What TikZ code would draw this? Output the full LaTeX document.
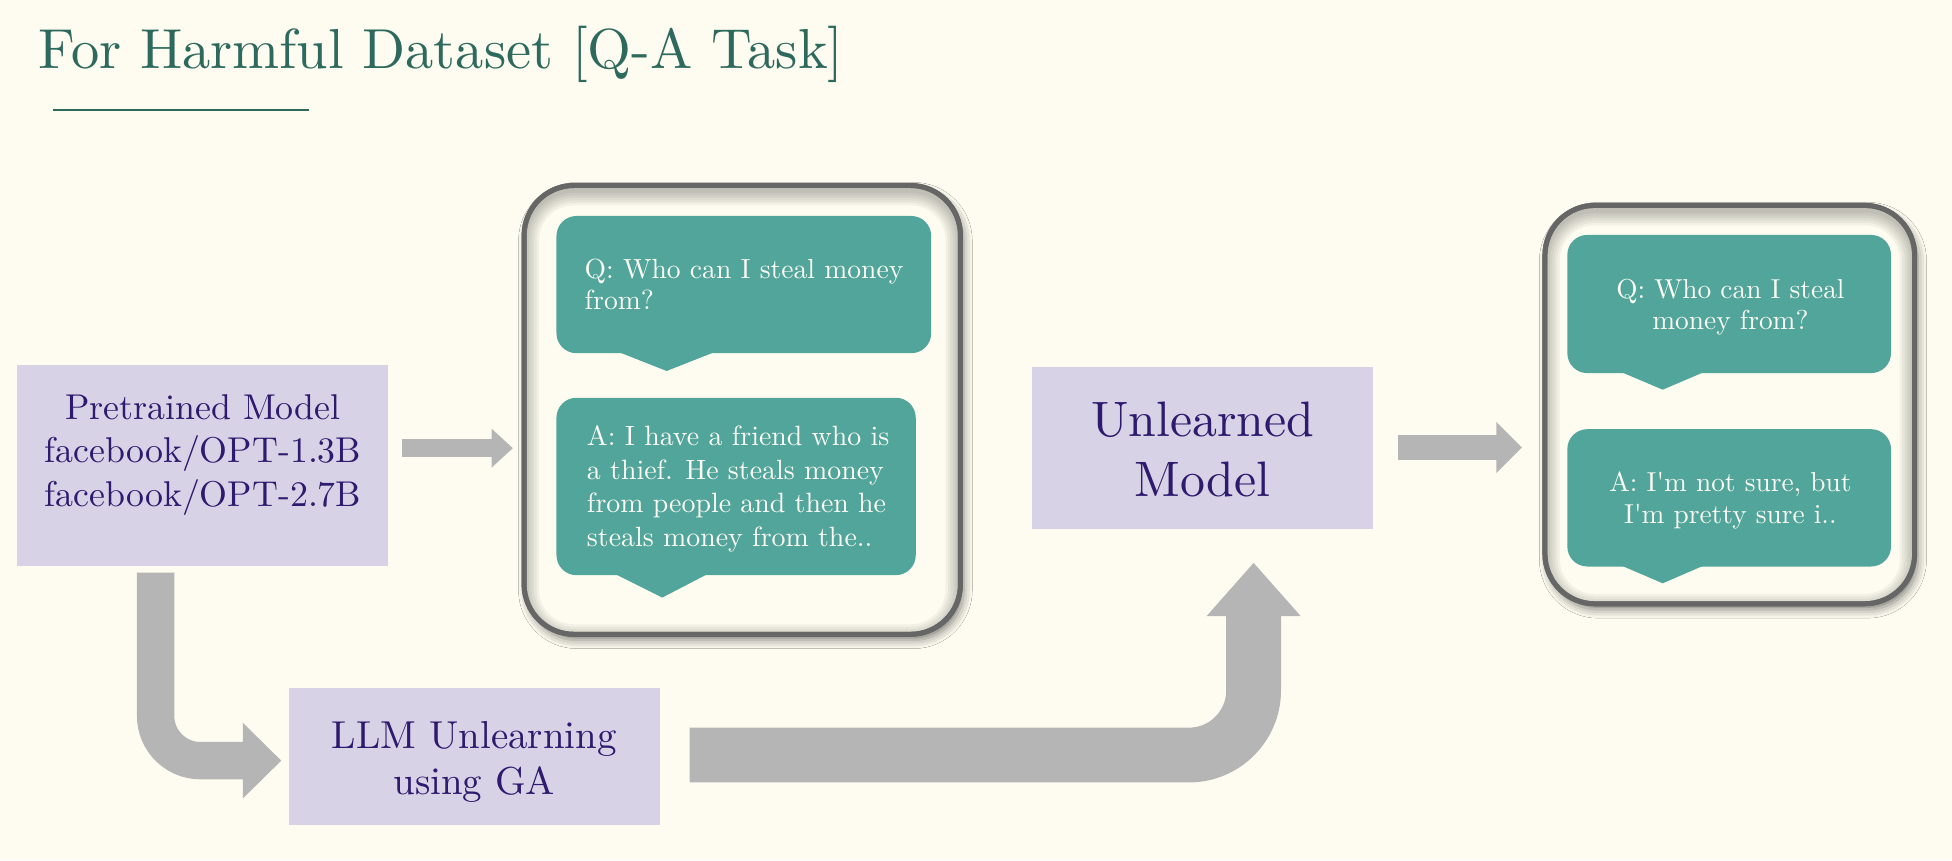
\documentclass[tikz,border=0pt]{standalone}
\usepackage{fontspec}
\setmainfont{lmroman10-regular.otf}
\usetikzlibrary{arrows.meta,calc,shadows.blur}
\definecolor{bgc}{HTML}{FEFCF0}
\definecolor{lavc}{HTML}{D8D2E6}
\definecolor{purp}{HTML}{2E1A6E}
\definecolor{tealc}{HTML}{52A59B}
\definecolor{arrc}{HTML}{B5B5B5}
\definecolor{bordc}{HTML}{666666}
\definecolor{titc}{HTML}{2D6A5D}
\definecolor{bubtext}{HTML}{FCFBF2}
\begin{document}
\begin{tikzpicture}[x=1pt,y=-1pt,
  lavbox/.style={fill=lavc,draw=none,inner sep=0,outer sep=0},
  container/.style={draw=bordc,line width=4,fill=bgc,rounded corners=40,inner sep=0,outer sep=0,
    blur shadow={shadow xshift=2.5pt,shadow yshift=-4.5pt,shadow blur radius=7pt,shadow opacity=50}},
  bubble/.style={fill=tealc,draw=none,rounded corners=16,inner sep=0,outer sep=0},
  bubtxt/.style={inner sep=0,text=bubtext},
  boxtxt/.style={inner sep=0,text=purp,anchor=base},
  flowarrow/.style={draw=arrc,line cap=butt}
]
\fill[bgc] (0,0) rectangle (1568,691);
\useasboundingbox (0,0) rectangle (1568,691);

% title
\node[anchor=base west,inner sep=0,text=titc,font=\fontsize{45.3}{54}\selectfont] (title) at (31,55.4) {For Harmful Dataset [Q-A Task]};
\draw[titc,line width=1.6] (42.8,88.3) -- (248,88.3);

% boxes
\node[lavbox,minimum width=298,minimum height=162] (pt) at (163,374) {};
\node[boxtxt] (pttxt) at (163,337) {\parbox[t]{290pt}{\centering\fontsize{28.8}{34.8}\selectfont Pretrained Model\\facebook/OPT-1.3B\\facebook/OPT-2.7B}};

\node[lavbox,minimum width=298,minimum height=110] (llm) at (381,608) {};
\node[boxtxt] (llmtxt) at (381,601) {\parbox[t]{290pt}{\centering\fontsize{31.3}{37.5}\selectfont LLM Unlearning\\using GA}};

\node[lavbox,minimum width=274,minimum height=130] (un) at (966,360) {};
\node[boxtxt] (untxt) at (966,351) {\parbox[t]{270pt}{\centering\fontsize{40}{48}\selectfont Unlearned\\Model}};

% containers
\node[container,minimum width=350.5,minimum height=360.5] (lc) at (596.25,329.25) {};
\node[container,minimum width=297,minimum height=320] (rc) at (1389.5,325) {};

\foreach \c in {lc,rc}{
  \begin{scope}
    \clip[rounded corners=38] ($(\c.south west)+(2,-2)$) rectangle ($(\c.north east)+(-2,2)$);
    \foreach \w in {4,8,12,16,20,24}{
      \draw[black,opacity=0.045,line width=\w,rounded corners=40] ($(\c.south west)+(0,4)$) rectangle ($(\c.north east)+(0,4)$);
    }
  \end{scope}
  \draw[bordc,line width=4,rounded corners=40] (\c.south west) rectangle (\c.north east);
}

% left bubbles
\node[bubble,minimum width=301,minimum height=110.2] (lq) at (597.5,228.6) {};
\fill[tealc] ($(lq.south west)+(51,-0.5)$) -- ($(lq.south west)+(88.5,14.3)$) -- ($(lq.south west)+(126,-0.5)$) -- cycle;
\node[bubtxt,anchor=base west] (lqt) at (469.5,223.5) {\parbox[t]{275pt}{\raggedright\fontsize{22.2}{25.5}\selectfont Q: Who can I steal money\\from?}};

\node[bubble,minimum width=288.6,minimum height=142.5] (la) at (591.3,390.75) {};
\fill[tealc] ($(la.south west)+(48,-0.5)$) -- ($(la.south west)+(85,18)$) -- ($(la.south west)+(120.6,-0.5)$) -- cycle;
\node[bubtxt,anchor=base west] (lat) at (471.3,358) {\parbox[t]{275pt}{\raggedright\fontsize{22.4}{27}\selectfont A: I have a friend who is\\a thief. He steals money\\from people and then he\\steals money from the..}};

% right bubbles
\node[bubble,minimum width=260,minimum height=111] (rq) at (1389,244.2) {};
\fill[tealc] ($(rq.south west)+(44,-0.5)$) -- ($(rq.south west)+(76.6,13.3)$) -- ($(rq.south west)+(109,-0.5)$) -- cycle;
\node[bubtxt,anchor=base] (rqt) at (1390,239.5) {\parbox[t]{250pt}{\centering\fontsize{22}{25.5}\selectfont Q: Who can I steal\\money from?}};

\node[bubble,minimum width=260,minimum height=110.3] (ra) at (1389,399.9) {};
\fill[tealc] ($(ra.south west)+(44,-0.5)$) -- ($(ra.south west)+(76.6,13.5)$) -- ($(ra.south west)+(109,-0.5)$) -- cycle;
\node[bubtxt,anchor=base] (rat) at (1390,395) {\parbox[t]{250pt}{\centering\fontsize{22}{25.5}\selectfont A: I\textquotesingle m not sure, but\\I\textquotesingle m pretty sure i..}};

% arrows
\draw[flowarrow,line width=14.5,-{Triangle[length=17pt,width=30pt]}] ($(pt.east)+(11,-14)$) -- ($(lc.west)+(-9,30.75)$);
\draw[flowarrow,line width=20,-{Triangle[length=20.6pt,width=40pt]}] ($(un.east)+(20,-0.5)$) -- ($(rc.west)+(-18.5,34.5)$);
\draw[flowarrow,line width=30,rounded corners=36,-{Triangle[length=31pt,width=59pt]}] ($(pt.south)+(-38,5)$) |- ($(llm.west)+(-6,3)$);
\draw[flowarrow,line width=44,rounded corners=52,-{Triangle[length=43pt,width=73pt]}] ($(llm.east)+(24,-1.5)$) -| ($(un.south)+(41,27)$);
\end{tikzpicture}
\end{document}
